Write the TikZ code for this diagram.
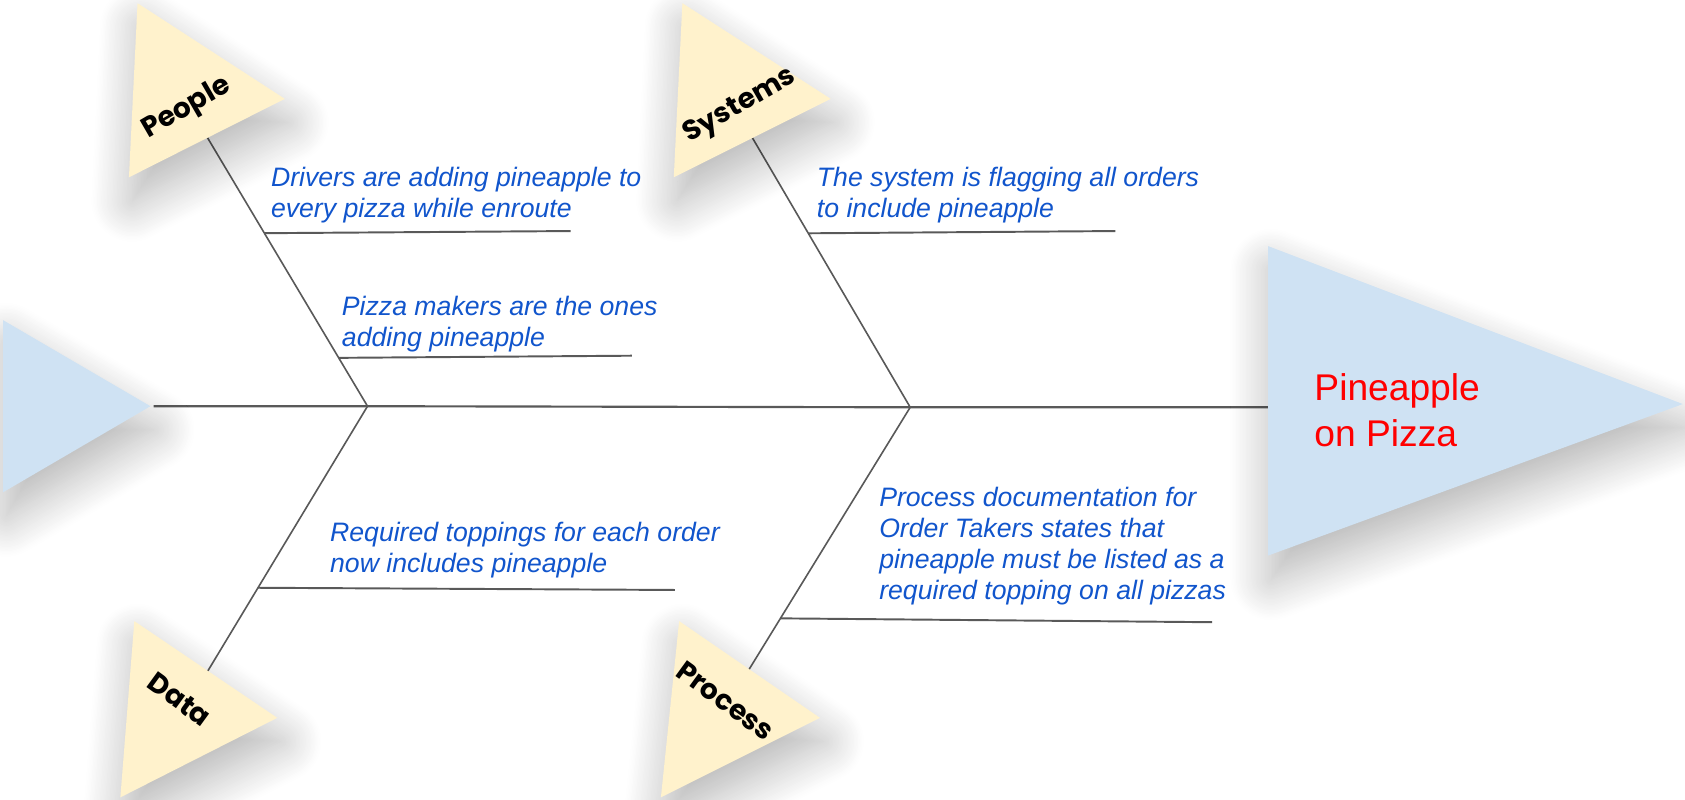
\documentclass[tikz,border=0pt]{standalone}
\usepackage{fontspec}
\setmainfont{Liberation Sans}
\newfontfamily\labfont{Poppins}
\usetikzlibrary{shadows.blur,calc}

\definecolor{bonegray}{HTML}{595959}
\definecolor{causeyellow}{HTML}{FFF2CC}
\definecolor{headblue}{HTML}{CFE2F3}
\definecolor{notesblue}{HTML}{1155CC}

\tikzset{
  softshadow/.style={blur shadow={shadow xshift=3pt, shadow yshift=-22pt,
      shadow blur radius=38pt, shadow blur steps=30, shadow opacity=30}},
  spine/.style={draw=bonegray, line width=2pt},
  bone/.style={draw=bonegray, line width=1.5pt},
  twig/.style={draw=bonegray, line width=1.8pt},
  causebox/.style={fill=causeyellow, softshadow},
  headbox/.style={fill=headblue, softshadow},
  note/.style={anchor=north west, inner sep=0pt, align=left, text=notesblue,
      font=\fontsize{24.8}{29}\selectfont\itshape},
  category/.style={inner sep=0pt, font=\labfont\bfseries\fontsize{26}{30}\selectfont},
}

\begin{document}
\begin{tikzpicture}[x=1pt, y=-1pt]
\useasboundingbox (0,0) rectangle (1568,744);

% spine and junctions
\coordinate (tail) at (143,378);
\coordinate (j1)   at (342,378);
\coordinate (j2)   at (847,379);
\coordinate (head) at (1180,379);

% ends of the four bones at their category triangles
\coordinate (peopleEnd)  at (193,128);
\coordinate (systemsEnd) at (700,128);
\coordinate (dataEnd)    at (193,625);
\coordinate (processEnd) at (697,623);

\draw[spine] (tail) -- (j1) -- (j2) -- (head);
\draw[bone] (j1) -- (peopleEnd);
\draw[bone] (j2) -- (systemsEnd);
\draw[bone] (j1) -- (dataEnd);
\draw[bone] (j2) -- (processEnd);

% twigs branching off the bones
\coordinate (t1) at ($(j1)!0.644!(peopleEnd)$);
\coordinate (t1e) at (531,215);
\coordinate (t2) at ($(j1)!0.18!(peopleEnd)$);
\coordinate (t2e) at (588,331);
\coordinate (t3) at ($(j2)!0.645!(systemsEnd)$);
\coordinate (t3e) at (1038,215);
\coordinate (t4) at ($(j1)!0.684!(dataEnd)$);
\coordinate (t4e) at (628,549);
\coordinate (t5) at ($(j2)!0.805!(processEnd)$);
\coordinate (t5e) at (1128,579);

\draw[twig] (t1) -- (t1e);
\draw[twig] (t2) -- (t2e);
\draw[twig] (t3) -- (t3e);
\draw[twig] (t4) -- (t4e);
\draw[twig] (t5) -- (t5e);

% triangles
\fill[headbox] (3,298) -- (140,378) -- (3,458) -- cycle;
\fill[headbox] (1180,229) -- (1566,376) -- (1180,517) -- cycle;
\fill[causebox] (128,3) -- (265,92) -- (120,165) -- cycle;
\fill[causebox] (635,3) -- (773,92) -- (627,165) -- cycle;
\fill[causebox] (125,578) -- (258,668) -- (112,742) -- cycle;
\fill[causebox] (632,578) -- (763,668) -- (615,742) -- cycle;

% category labels
\node[category, rotate=30]  (people)  at (174,101) {People};
\node[category, rotate=30]  (systems) at (689,99)  {Systems};
\node[category, rotate=-36] (data)    at (167,651) {Data};
\node[category, rotate=-36] (process) at (675,652) {Process};

% effect
\node[anchor=north west, inner sep=0pt, align=left, text=red,
      font=\fontsize{34.6}{43}\selectfont] (effect) at (1223,347)
      {Pineapple\\on Pizza};

% causes
\node[note] (n1) at (252,155) {Drivers are adding pineapple to\\every pizza while enroute};
\node[note] (n2) at (318,275) {Pizza makers are the ones\\adding pineapple};
\node[note] (n3) at (760,155) {The system is flagging all orders\\to include pineapple};
\node[note] (n4) at (307,486) {Required toppings for each order\\now includes pineapple};
\node[note] (n5) at (818,453) {Process documentation for\\Order Takers states that\\pineapple must be listed as a\\required topping on all pizzas};
\end{tikzpicture}
\end{document}
